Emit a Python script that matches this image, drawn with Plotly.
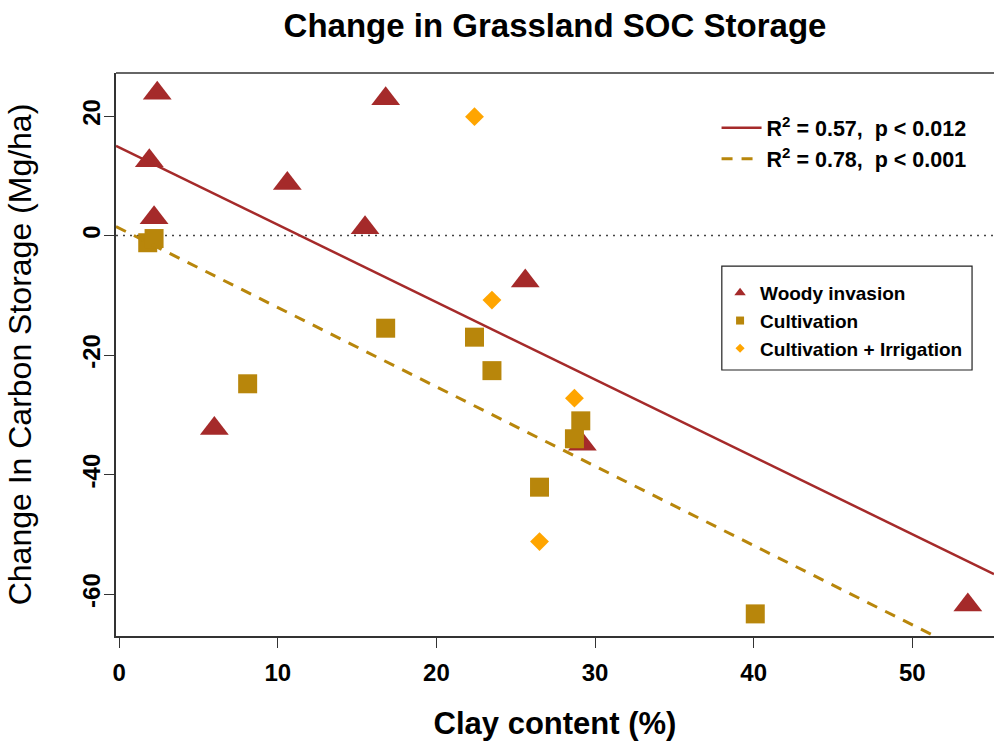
import numpy as np
import plotly.graph_objects as go

# ---------------- data ----------------
woody_clay = [2.4, 16.8, 1.9, 10.6, 2.2, 15.5, 25.6, 6.0, 29.2, 53.5]
woody_dsoc = [23.8, 22.9, 12.5, 8.7, 3.0, 1.3, -7.6, -32.3, -34.9, -61.8]

cult_clay = [1.8, 2.2, 8.1, 16.8, 22.4, 23.5, 29.1, 28.7, 26.5, 40.1]
cult_dsoc = [-1.2, -0.5, -24.8, -15.5, -17.0, -22.6, -31.0, -34.0, -42.1, -63.3]

irr_clay = [22.4, 23.5, 28.7, 26.5]
irr_dsoc = [19.9, -10.8, -27.2, -51.2]

series_names = ["Woody invasion", "Cultivation", "Cultivation + Irrigation"]
fit_labels = ["R<sup>2</sup> = 0.57,  p < 0.012", "R<sup>2</sup> = 0.78,  p < 0.001"]

x_ticks = [0, 10, 20, 30, 40, 50]
y_ticks = [20, 0, -20, -40, -60]
x_range = [-0.2, 55.15]
y_range = [-67.0, 27.2]

BROWN = "#A52A2A"
GOLD = "#B8860B"
ORANGE = "#FFA500"
FONT = "Liberation Sans, Arial, Helvetica, sans-serif"

# least-squares fits (abline(lm(...)))
woody_fit = np.polyfit(woody_clay, woody_dsoc, 1)
cult_fit = np.polyfit(cult_clay, cult_dsoc, 1)
x_line = np.array(x_range)

fig = go.Figure()

# data points
fig.add_trace(go.Scatter(x=woody_clay, y=woody_dsoc, mode="markers", showlegend=False,
                         marker=dict(symbol="triangle-up", size=25, color=BROWN, line=dict(width=0))))
fig.add_trace(go.Scatter(x=cult_clay, y=cult_dsoc, mode="markers", showlegend=False,
                         marker=dict(symbol="square", size=19, color=GOLD, line=dict(width=0))))
fig.add_trace(go.Scatter(x=irr_clay, y=irr_dsoc, mode="markers", showlegend=False,
                         marker=dict(symbol="diamond", size=14.5, color=ORANGE, line=dict(width=0))))

# regression lines
fig.add_trace(go.Scatter(x=x_line, y=np.polyval(woody_fit, x_line), mode="lines",
                         name=fit_labels[0], legend="legend",
                         line=dict(color=BROWN, width=2.5)))
fig.add_trace(go.Scatter(x=x_line, y=np.polyval(cult_fit, x_line), mode="lines",
                         name=fit_labels[1], legend="legend",
                         line=dict(color=GOLD, width=3, dash="11px,9px")))

# legend entries for the point types (small symbols like the reference)
for nm, sym, sz, col in zip(series_names, ["triangle-up", "square", "diamond"], [10, 8, 7], [BROWN, GOLD, ORANGE]):
    fig.add_trace(go.Scatter(x=[None], y=[None], mode="markers", name=nm, legend="legend2",
                             marker=dict(symbol=sym, size=sz, color=col, line=dict(width=0))))

# zero reference line
fig.add_shape(type="line", xref="paper", x0=0, x1=1, yref="y", y0=0, y1=0, layer="below",
              line=dict(color="#444444", width=1.5, dash="2px,5px"))
# top frame line
fig.add_shape(type="line", xref="paper", x0=0, x1=1, yref="paper", y0=1, y1=1,
              line=dict(color="#333333", width=1.5))
# legend box
fig.add_shape(type="rect", xref="paper", yref="paper", x0=0.690, x1=0.975, y0=0.4725, y1=0.657,
              line=dict(color="#222222", width=1.2), fillcolor="rgba(0,0,0,0)")

axis_common = dict(showgrid=False, zeroline=False, showline=True, linecolor="#333333", linewidth=1.5,
                   ticks="outside", ticklen=10, tickwidth=1.2, tickcolor="#333333",
                   tickfont=dict(family=FONT, size=24, color="black", weight="bold"))

fig.update_layout(
    width=994, height=751,
    margin=dict(l=116, r=0, t=73, b=115),
    paper_bgcolor="white", plot_bgcolor="white",
    font=dict(family=FONT, color="black"),
    title=dict(text="Change in Grassland SOC Storage", x=0.5, xref="paper", xanchor="center",
               y=1 - 25 / 751, yref="container", yanchor="middle",
               font=dict(family=FONT, size=33, color="black", weight="bold")),
    xaxis=dict(range=x_range, tickvals=x_ticks, ticktext=[str(v) for v in x_ticks], ticklabelstandoff=4,
               title=dict(text="Clay content (%)", standoff=28,
                          font=dict(family=FONT, size=31, color="black", weight="bold")),
               **axis_common),
    yaxis=dict(range=y_range, tickvals=y_ticks, ticktext=[str(v) for v in y_ticks], tickangle=-90,
               ticklabelstandoff=-5,
               title=dict(text="Change In Carbon Storage (Mg/ha)", standoff=36,
                          font=dict(family=FONT, size=32, color="black")),
               **axis_common),
    legend=dict(x=0.684, y=0.939, xanchor="left", yanchor="top", bgcolor="rgba(0,0,0,0)",
                itemwidth=40,
                borderwidth=0, font=dict(family=FONT, size=21.5, color="black", weight="bold")),
    legend2=dict(x=0.688, y=0.643, xanchor="left", yanchor="top", bgcolor="rgba(0,0,0,0)",
                 borderwidth=0, font=dict(family=FONT, size=19, color="black", weight="bold")),
)

fig.write_html("out.html")
